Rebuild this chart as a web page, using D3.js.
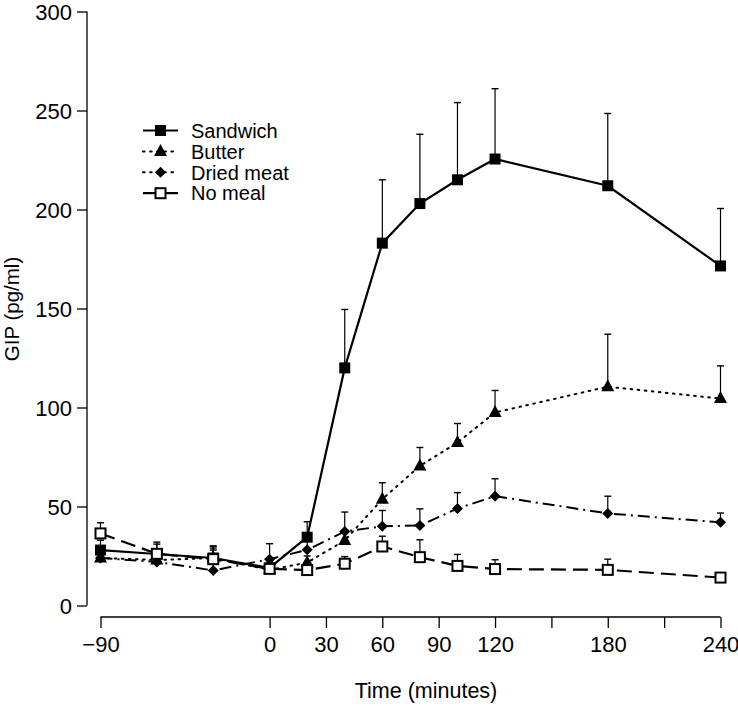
<!DOCTYPE html>
<html><head><meta charset="utf-8">
<script src="https://cdn.jsdelivr.net/npm/d3@7"></script>
<style>body{margin:0;background:#fff}svg{display:block}text{font-family:"Liberation Sans",Arial,sans-serif;fill:#000}</style>
</head><body>
<svg id="c" width="738" height="706"></svg>
<script>
const times = [-90, -60, -30, 0, 20, 40, 60, 80, 100, 120, 180, 240];
const sandwich    = [28, 26, 24, 19, 34.5, 120, 183, 203, 215, 225.5, 212, 171.5];
const sandwichErr = [33, 31, 29, 22, 42.3, 149.5, 215, 238, 254, 261, 248.5, 200.5];
const butter      = [24, 23, 24, 18, 21.7, 32.8, 53.7, 70.5, 82.3, 97.5, 110.5, 104.5];
const butterErr   = [28, 27, 28, 21, 25, 38, 62, 79.8, 91.9, 108.6, 137, 121];
const driedMeat   = [24, 22, 17.7, 23.4, 28.1, 37.4, 40, 40.4, 49, 55.2, 46.5, 42];
const driedMeatErr= [28, 26, 30, 31.2, 34, 47.2, 48, 48.8, 57, 64, 55.2, 46.7];
const noMeal      = [36.4, 26.1, 23.4, 18.5, 17.9, 21.1, 29.8, 24.4, 20, 18.4, 18, 14.1];
const noMealErr   = [41.8, 32, 30, 20, 19, 24.7, 35, 33.2, 25.8, 23.1, 23.4, 16];
const seriesNames = ["Sandwich", "Butter", "Dried meat", "No meal"];
const xTicks = [-90, 0, 30, 60, 90, 120, 150, 180, 210, 240];
const xTickLabels = ["\u221290", "0", "30", "60", "90", "120", "", "180", "", "240"];
const yTicks = [0, 50, 100, 150, 200, 250, 300];

const svg = d3.select("#c");
const x = d3.scaleLinear().domain([-90, 240]).range([100.5, 720.5]);
const y = d3.scaleLinear().domain([0, 300]).range([605.5, 11.5]);

// Y axis
const yAxis = d3.axisLeft(y).tickValues(yTicks).tickSize(10).tickPadding(5).tickSizeOuter(0);
const gy = svg.append("g").attr("transform", "translate(87,0)").call(yAxis);
gy.selectAll("text").style("font-size", "22px").attr("dy", "0.35em");
gy.selectAll("path,line").attr("stroke", "#000").attr("stroke-width", 1.3);
gy.select(".domain").attr("d", `M0,${y(0)}V${y(300)}`);

// X axis
const xAxis = d3.axisBottom(x).tickValues(xTicks).tickFormat((d, i) => xTickLabels[i]).tickSize(11).tickPadding(8).tickSizeOuter(0);
const gx = svg.append("g").attr("transform", "translate(0,617)").call(xAxis);
gx.selectAll("text").style("font-size", "22px");
gx.selectAll("path,line").attr("stroke", "#000").attr("stroke-width", 1.3);
gx.select(".domain").attr("d", `M${x(-90)},0H${x(240)}`);

// Axis titles
svg.append("text").attr("x", 426).attr("y", 698).attr("text-anchor", "middle").style("font-size", "21.5px").text("Time (minutes)");
svg.append("text").attr("transform", "translate(19,309) rotate(-90)").attr("text-anchor", "middle").style("font-size", "20.5px").text("GIP (pg/ml)");

const styles = [
  {vals: sandwich, err: sandwichErr, dash: null, w: 2.2, marker: "sq"},
  {vals: butter, err: butterErr, dash: "1.6,5.5", w: 2, marker: "tri"},
  {vals: driedMeat, err: driedMeatErr, dash: "12,5,2,5", w: 2, marker: "dia"},
  {vals: noMeal, err: noMealErr, dash: "15,7", w: 2.2, marker: "osq"}
];

function drawMarker(g, type, cx, cy) {
  if (type === "sq") g.append("rect").attr("x", cx - 5.5).attr("y", cy - 5.5).attr("width", 11).attr("height", 11).attr("fill", "#000");
  else if (type === "osq") g.append("rect").attr("x", cx - 5).attr("y", cy - 5).attr("width", 10).attr("height", 10).attr("fill", "#fff").attr("stroke", "#000").attr("stroke-width", 2);
  else if (type === "tri") g.append("path").attr("d", `M${cx},${cy - 7.5}L${cx + 6.5},${cy + 4.5}L${cx - 6.5},${cy + 4.5}Z`).attr("fill", "#000");
  else if (type === "dia") g.append("path").attr("d", `M${cx},${cy - 5.5}L${cx + 5.5},${cy}L${cx},${cy + 5.5}L${cx - 5.5},${cy}Z`).attr("fill", "#000");
}

const line = d3.line().x(d => x(d[0])).y(d => y(d[1]));

// error bars first
styles.forEach(s => {
  const g = svg.append("g");
  times.forEach((t, i) => {
    g.append("line").attr("x1", x(t)).attr("x2", x(t)).attr("y1", y(s.vals[i])).attr("y2", y(s.err[i])).attr("stroke", "#000").attr("stroke-width", 1.2);
    g.append("line").attr("x1", x(t) - 3.5).attr("x2", x(t) + 3.5).attr("y1", y(s.err[i])).attr("y2", y(s.err[i])).attr("stroke", "#000").attr("stroke-width", 1.4);
  });
});

styles.forEach(s => {
  const pts = times.map((t, i) => [t, s.vals[i]]);
  svg.append("path").attr("d", line(pts)).attr("fill", "none").attr("stroke", "#000").attr("stroke-width", s.w)
    .attr("stroke-dasharray", s.dash).attr("stroke-linecap", s.marker === "tri" ? "round" : "butt");
  const g = svg.append("g");
  pts.forEach(p => drawMarker(g, s.marker, x(p[0]), y(p[1])));
});

// Legend
const lg = svg.append("g");
seriesNames.forEach((n, i) => {
  const ly = 130.5 + i * 20.9;
  const s = styles[i];
  lg.append("line").attr("x1", 143).attr("x2", 178).attr("y1", ly).attr("y2", ly).attr("stroke", "#000").attr("stroke-width", s.w)
    .attr("stroke-dasharray", s.marker === "tri" || s.marker === "dia" ? "1.6,5.5" : null).attr("stroke-linecap", s.marker === "tri" || s.marker === "dia" ? "round" : "butt");
  drawMarker(lg, s.marker, 160.5, ly);
  lg.append("text").attr("x", 191).attr("y", ly).attr("dy", "0.36em").style("font-size", "20px").text(n);
});
</script>
</body></html>
